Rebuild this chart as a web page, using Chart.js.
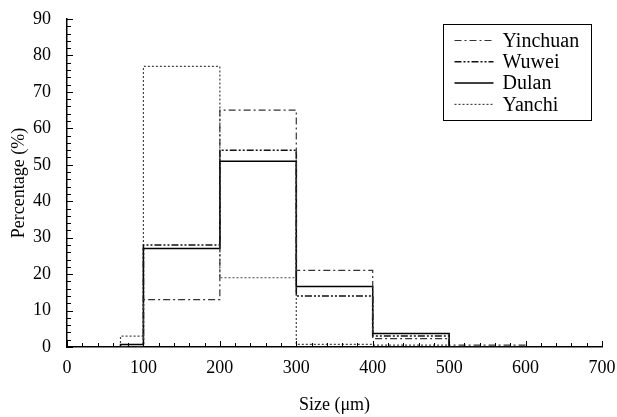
<!DOCTYPE html>
<html>
<head>
<meta charset="utf-8">
<script src="https://cdn.jsdelivr.net/npm/chart.js@4"></script>
<style>
  html, body { margin: 0; padding: 0; background: #fff; }
  #wrap { width: 617px; height: 417px; }
</style>
</head>
<body>
<div id="wrap"><canvas id="chart" width="617" height="417"></canvas></div>
<script>
// bin edges (µm) and percentage per bin
const sizeEdges = [70, 100, 200, 300, 400, 500, 600];
const yinchuan = [0, 13, 65, 21, 2.3, 0.5];
const wuwei    = [0, 28, 54, 14, 3, 0];
const dulan    = [0.7, 27, 51, 16.6, 3.7, 0];
const yanchi   = [3, 77, 19, 0.7, 0.5, 0];
const seriesNames = ['Yinchuan', 'Wuwei', 'Dulan', 'Yanchi'];
const xTicks = [0, 100, 200, 300, 400, 500, 600, 700];
const yTicks = [0, 10, 20, 30, 40, 50, 60, 70, 80, 90];

const FONT = '"Liberation Serif", "Times New Roman", serif';

// histogram outline: start on the axis, step through each bin, drop back down
function outline(vals) {
    var pts = [{x: sizeEdges[0], y: 0}];
    vals.forEach((v, i) => pts.push({x: sizeEdges[i], y: v}));
    pts.push({x: sizeEdges[vals.length], y: 0});
    return pts;
}

const styles = [
    {color: '#333', width: 1.2, dash: [7, 3, 2, 3]},
    {color: '#111', width: 1.6, dash: [7, 2, 2, 2, 2, 2]},
    {color: '#000', width: 1.5, dash: []},
    {color: '#444', width: 1.2, dash: [2, 2]}
];

const datasets = [yinchuan, wuwei, dulan, yanchi].map((vals, i) => ({
    label: seriesNames[i],
    data: outline(vals),
    stepped: 'before',
    borderColor: styles[i].color,
    borderWidth: styles[i].width,
    borderDash: styles[i].dash,
    pointRadius: 0,
    fill: false
}));

// inward minor/major ticks like the original plot
const innerTicks = {
    id: 'innerTicks',
    afterDraw(chart) {
        const ctx = chart.ctx, xs = chart.scales.x, ys = chart.scales.y;
        const area = chart.chartArea;
        ctx.save();
        ctx.strokeStyle = '#000';
        ctx.lineWidth = 1;
        for (let v = 0; v <= 700; v += 20) {
            const px = Math.round(xs.getPixelForValue(v)) + 0.5;
            const len = v % 100 === 0 ? 6 : 4;
            ctx.beginPath();
            ctx.moveTo(px, area.bottom);
            ctx.lineTo(px, area.bottom - len);
            ctx.stroke();
        }
        for (let v = 0; v <= 90; v += 2) {
            const py = Math.round(ys.getPixelForValue(v)) + 0.5;
            const len = v % 10 === 0 ? 6 : 4;
            ctx.beginPath();
            ctx.moveTo(area.left, py);
            ctx.lineTo(area.left + len, py);
            ctx.stroke();
        }
        ctx.restore();
    }
};

// boxed legend in the top right
const boxLegend = {
    id: 'boxLegend',
    afterDraw(chart) {
        const ctx = chart.ctx;
        const bx = 443.5, by = 24.5, bw = 148, bh = 96;
        ctx.save();
        ctx.strokeStyle = '#000';
        ctx.lineWidth = 1;
        ctx.fillStyle = '#fff';
        ctx.fillRect(bx, by, bw, bh);
        ctx.strokeRect(bx, by, bw, bh);
        ctx.font = '20px ' + FONT;
        ctx.textBaseline = 'middle';
        chart.data.datasets.forEach((ds, i) => {
            const y = by + 16 + i * 21.3;
            ctx.strokeStyle = ds.borderColor;
            ctx.lineWidth = ds.borderWidth;
            ctx.setLineDash(ds.borderDash);
            ctx.beginPath();
            ctx.moveTo(bx + 11, y);
            ctx.lineTo(bx + 50, y);
            ctx.stroke();
            ctx.setLineDash([]);
            ctx.fillStyle = '#000';
            ctx.fillText(ds.label, bx + 59, y + 1);
        });
        ctx.restore();
    }
};

new Chart(document.getElementById('chart'), {
    type: 'line',
    data: {datasets: datasets},
    options: {
        responsive: false,
        animation: false,
        layout: {padding: {top: 19, right: 15, left: 0, bottom: 0}},
        plugins: {
            legend: {display: false},
            tooltip: {enabled: false}
        },
        scales: {
            x: {
                type: 'linear',
                min: 0,
                max: 700,
                afterBuildTicks: s => { s.ticks = xTicks.map(v => ({value: v})); },
                afterFit: s => { s.height = 70; s.paddingLeft = 0; s.paddingRight = 0; },
                grid: {display: false},
                border: {display: true, color: '#000', width: 1.5},
                ticks: {color: '#000', padding: 2, maxRotation: 0, font: {family: FONT, size: 18}},
                title: {display: true, text: 'Size (μm)', color: '#000', font: {family: FONT, size: 18}, padding: {top: 0, bottom: 1}}
            },
            y: {
                min: 0,
                max: 90,
                afterBuildTicks: s => { s.ticks = yTicks.map(v => ({value: v})); },
                afterFit: s => { s.width = 67; s.paddingTop = 0; s.paddingBottom = 0; },
                grid: {display: false},
                border: {display: true, color: '#000', width: 1.5},
                ticks: {color: '#000', padding: 8, font: {family: FONT, size: 18}},
                title: {display: true, text: 'Percentage (%)', color: '#000', font: {family: FONT, size: 18}, padding: {top: 8, bottom: 0}}
            }
        }
    },
    plugins: [innerTicks, boxLegend]
});
</script>
</body>
</html>
